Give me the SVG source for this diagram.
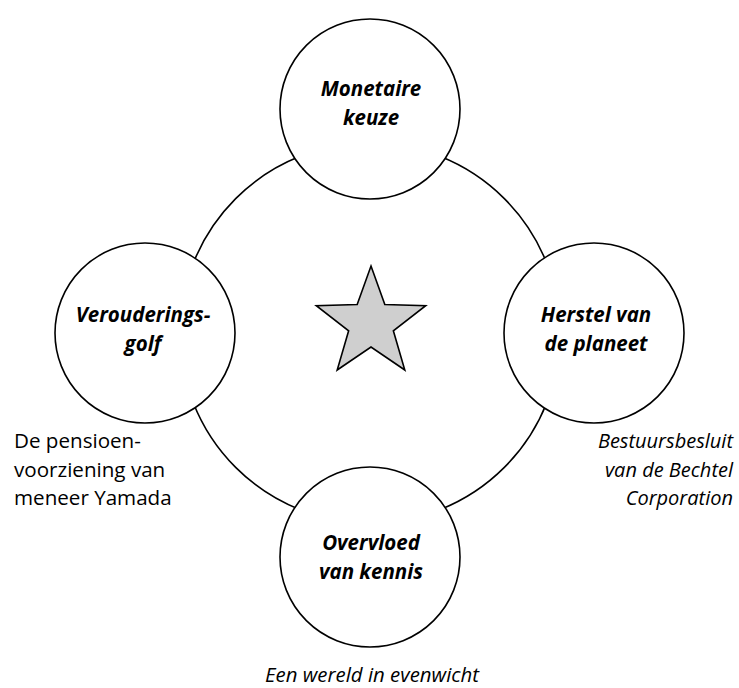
<svg xmlns="http://www.w3.org/2000/svg" width="739" height="688" viewBox="0 0 739 688">
  <style>
    .ring { fill: none; stroke: #000; stroke-width: 1.6; }
    .node { fill: #fff; stroke: #000; stroke-width: 1.6; }
    .lbl { font-family: "Open Sans", "Noto Sans", sans-serif; font-size: 20.5px; font-weight: bold; font-style: italic; fill: #000; text-anchor: middle; }
    .note { font-family: "Open Sans", "Noto Sans", sans-serif; font-size: 20px; fill: #000; }
    .left { font-size: 20.6px; }
    .it { font-style: italic; }
    .bottom { font-size: 20.4px; }
    .star { fill: #cfcfcf; stroke: #000; stroke-width: 1.6; stroke-linejoin: miter; }
  </style>
  <rect width="739" height="688" fill="#fff"/>
  <g id="connectors">
    <circle class="ring" cx="370" cy="333" r="190"/>
  </g>
  <g id="node-top">
    <circle class="node" cx="370" cy="109" r="90"/>
    <text class="lbl" x="371" y="96">Monetaire</text>
    <text class="lbl" x="371" y="125">keuze</text>
  </g>
  <g id="node-left">
    <circle class="node" cx="145" cy="333" r="90"/>
    <text class="lbl" x="143" y="322">Verouderings-</text>
    <text class="lbl" x="143" y="351">golf</text>
  </g>
  <g id="node-right">
    <circle class="node" cx="594" cy="333" r="90"/>
    <text class="lbl" x="596" y="322">Herstel van</text>
    <text class="lbl" x="596" y="351">de planeet</text>
  </g>
  <g id="node-bottom">
    <circle class="node" cx="370" cy="557" r="90"/>
    <text class="lbl" x="371" y="550">Overvloed</text>
    <text class="lbl" x="371" y="579">van kennis</text>
  </g>
  <g id="star">
    <polygon class="star" points="371,266 384.81,304.49 425.69,305.73 393.35,330.76 404.8,370.02 371,347 337.2,370.02 348.65,330.76 316.31,305.73 357.19,304.49"/>
  </g>
  <g id="note-left">
    <text class="note left" x="14" y="448">De pensioen-</text>
    <text class="note left" x="14" y="477">voorziening van</text>
    <text class="note left" x="14" y="505">meneer Yamada</text>
  </g>
  <g id="note-right">
    <text class="note it" x="733" y="448" text-anchor="end">Bestuursbesluit</text>
    <text class="note it" x="733" y="477" text-anchor="end">van de Bechtel</text>
    <text class="note it" x="733" y="505" text-anchor="end">Corporation</text>
  </g>
  <g id="note-bottom">
    <text class="note it bottom" x="372" y="682" text-anchor="middle">Een wereld in evenwicht</text>
  </g>
</svg>
